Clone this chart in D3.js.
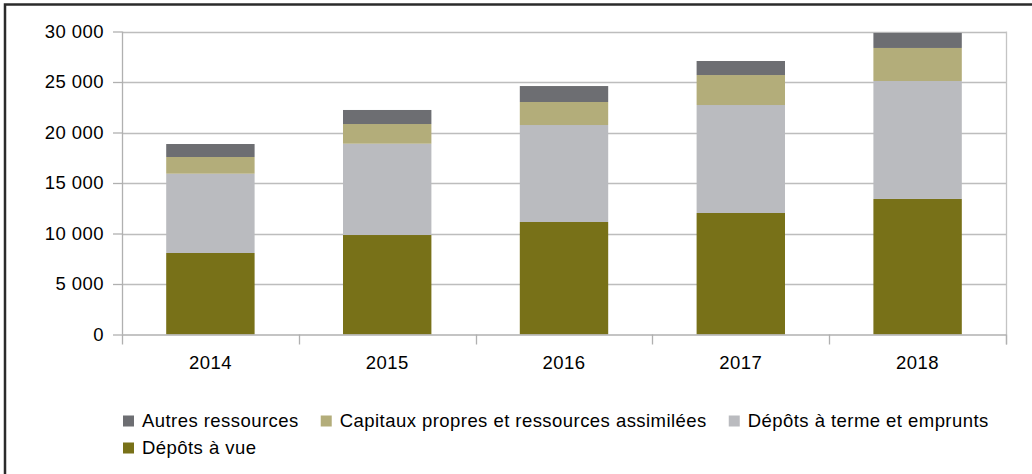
<!DOCTYPE html>
<html>
<head>
<meta charset="utf-8">
<script src="https://cdn.jsdelivr.net/npm/d3@7"></script>
<style>
  html, body { margin: 0; padding: 0; background: #fff; }
  svg { display: block; font-family: "Liberation Sans", Arial, sans-serif; }
  .lbl { font-size: 18.5px; letter-spacing: 0.45px; }
</style>
</head>
<body>
<svg id="chart" width="1032" height="474"></svg>
<script>
// Ressources par année (millions)
const years = ["2014", "2015", "2016", "2017", "2018"];
const depotsVue = [8070, 9850, 11140, 12030, 13420];
const depotsTerme = [7850, 9040, 9600, 10690, 11680];
const capitaux = [1655, 1950, 2280, 2970, 3270];
const autres = [1285, 1390, 1580, 1390, 1490];
const yTicks = [0, 5000, 10000, 15000, 20000, 25000, 30000];

// Stack order bottom → top
const seriesNames = ["Dépôts à vue", "Dépôts à terme et emprunts", "Capitaux propres et ressources assimilées", "Autres ressources"];
const seriesValues = [depotsVue, depotsTerme, capitaux, autres];
const seriesColors = ["#787118", "#babbbf", "#b3ad7a", "#6d6e72"];
// Legend order
const legendOrder = [3, 2, 1, 0];

const svg = d3.select("#chart");
const W = 1032, H = 474;
const m = { left: 122, right: 1006, top: 31.5, bottom: 334.5 };

// outer frame
svg.append("rect")
  .attr("x", 5).attr("y", 4.5)
  .attr("width", W + 10).attr("height", H + 10)
  .attr("fill", "none").attr("stroke", "#2b2b2b").attr("stroke-width", 2.5);

const rows = years.map((yr, i) => {
  const r = { year: yr };
  seriesNames.forEach((n, k) => r[n] = seriesValues[k][i]);
  return r;
});
const stacked = d3.stack().keys(seriesNames)(rows);

const x = d3.scaleBand().domain(years).range([m.left, m.right]).paddingInner(0.5).paddingOuter(0.25);
const xEdge = d3.scaleLinear().domain([0, years.length]).range([m.left, m.right]);
const y = d3.scaleLinear().domain([0, 30000]).range([m.bottom, m.top]);

const fmt = v => d3.format(",")(v).replace(/,/g, " ");

// gridlines
svg.append("g").selectAll("line").data(yTicks.filter(t => t > 0)).join("line")
  .attr("x1", m.left).attr("x2", m.right)
  .attr("y1", d => Math.round(y(d)) + 0.5).attr("y2", d => Math.round(y(d)) + 0.5)
  .attr("stroke", "#bdbdbd").attr("stroke-width", 1.3);

// right plot border
svg.append("line")
  .attr("x1", m.right + 0.5).attr("x2", m.right + 0.5)
  .attr("y1", m.top).attr("y2", m.bottom + 10)
  .attr("stroke", "#c4c4c4").attr("stroke-width", 1.3);

// bars
svg.append("g").selectAll("g").data(stacked).join("g")
  .attr("fill", (d, i) => seriesColors[i])
  .selectAll("rect").data(d => d).join("rect")
  .attr("x", d => x(d.data.year))
  .attr("width", x.bandwidth())
  .attr("y", d => y(d[1]))
  .attr("height", d => y(d[0]) - y(d[1]));

// y axis
const yAxis = d3.axisLeft(y).tickValues(yTicks).tickFormat(fmt).tickSize(9).tickPadding(9);
const gy = svg.append("g").attr("transform", `translate(${m.left},0)`).call(yAxis);
gy.select(".domain").attr("stroke", "#b0b0b0").attr("stroke-width", 1.3)
  .attr("d", `M0.5,${m.top}V${m.bottom}`);
gy.selectAll(".tick line").attr("stroke", "#b0b0b0").attr("stroke-width", 1.3);
gy.selectAll(".tick text").attr("fill", "#000").attr("class", "lbl")
  .style("font-family", "Liberation Sans, Arial, sans-serif");

// x axis
const gx = svg.append("g").attr("transform", `translate(0,${m.bottom})`)
  .call(d3.axisBottom(x).tickSize(0).tickPadding(21));
gx.select(".domain").attr("stroke", "#b0b0b0").attr("stroke-width", 1.3)
  .attr("d", `M${m.left},0.5H${m.right}`);
gx.selectAll(".tick text").attr("fill", "#000").attr("class", "lbl")
  .style("font-family", "Liberation Sans, Arial, sans-serif");
// category boundary ticks
svg.append("g").selectAll("line").data(d3.range(years.length + 1)).join("line")
  .attr("x1", d => Math.round(xEdge(d)) + 0.5).attr("x2", d => Math.round(xEdge(d)) + 0.5)
  .attr("y1", m.bottom).attr("y2", m.bottom + 10)
  .attr("stroke", "#b0b0b0").attr("stroke-width", 1.3);

// legend (flow layout, wraps to next row)
const legend = svg.append("g");
let lx = 123, ly = 421;
const lineH = 27, maxX = 1012;
legendOrder.forEach(k => {
  const g = legend.append("g");
  const t = g.append("text").attr("class", "lbl").attr("x", 19).attr("y", 0).attr("dy", "0.35em")
    .attr("fill", "#000").text(seriesNames[k]);
  const w = 19 + t.node().getComputedTextLength();
  if (lx + w > maxX) { lx = 123; ly += lineH; }
  g.attr("transform", `translate(${lx},${ly})`);
  g.insert("rect", "text").attr("x", 0).attr("y", -5.5).attr("width", 11).attr("height", 11)
    .attr("fill", seriesColors[k]);
  lx += w + 22;
});
</script>
</body>
</html>
